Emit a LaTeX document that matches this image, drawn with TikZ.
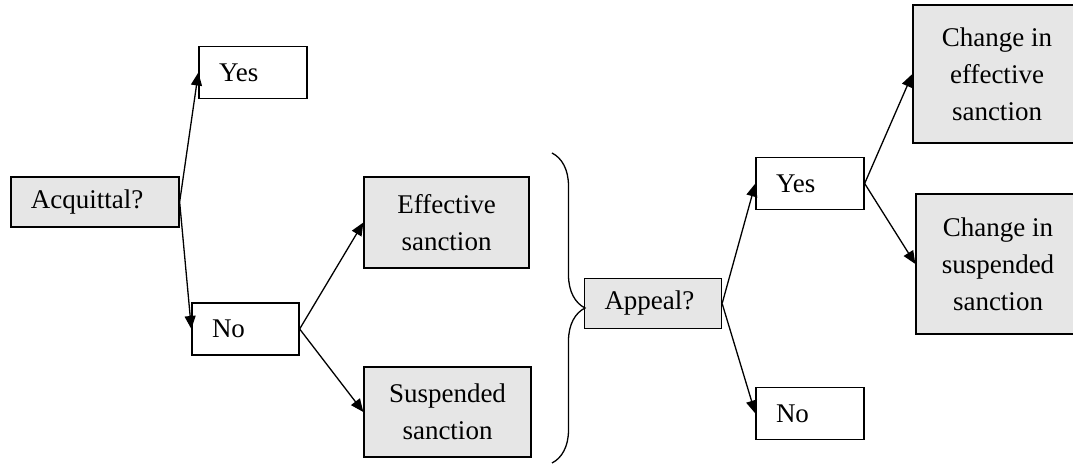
\documentclass[tikz,border=0pt]{standalone}
\usepackage{fontspec}
\setmainfont{Liberation Serif}
\usetikzlibrary{arrows.meta,decorations.pathreplacing}
\definecolor{boxgrey}{HTML}{E6E6E6}

\begin{document}
\begin{tikzpicture}[x=0.5pt,y=0.5pt,
  font=\fontsize{13.5}{18.5}\selectfont,
  answer/.style={draw,line width=0.65pt,inner xsep=10pt,inner ysep=0pt,
    align=left,text width=#1,minimum height=26pt},
  question/.style={answer=#1,fill=boxgrey,minimum height=25pt},
  sanction/.style={draw,line width=0.65pt,fill=boxgrey,inner sep=0pt,align=center},
  arr/.style={line width=0.65pt,-{Triangle[length=6.5pt,width=5.5pt]}}]
\useasboundingbox (0,0) rectangle (1073,465);
\clip (0,0) rectangle (1073,465);
\node[question=64pt] (acq) at (95,263) {Acquittal?};
\node[answer=34pt] (yesA) at (253,392.5) {Yes};
\node[answer=33.5pt] (noA) at (245.5,136) {No};
\node[sanction,minimum width=82.5pt,minimum height=45.5pt] (eff) at (446.5,242.5) {Effective\\sanction};
\node[sanction,minimum width=83.5pt,minimum height=45pt] (susp) at (447.5,53) {Suspended\\sanction};
\node[question=48.5pt] (appeal) at (653,161.5) {Appeal?};
\node[answer=34pt] (yesB) at (810,281.5) {Yes};
\node[answer=34pt] (noB) at (810,51.5) {No};
\node[sanction,minimum width=84pt,minimum height=69pt] (chgeff) at (997,391) {Change in\\effective\\sanction};
\node[sanction,minimum width=82pt,minimum height=70pt] (chgsusp) at (998,201) {Change in\\suspended\\sanction};
\coordinate (bracetop) at (552,312);
\coordinate (bracebot) at (552,2);
\draw[arr] (acq.east) -- (yesA.west);
\draw[arr] (acq.east) -- (noA.west);
\draw[arr] (noA.east) -- (eff.west);
\draw[arr] (noA.east) -- (susp.west);
\draw[line width=0.65pt,decorate,decoration={brace,amplitude=16.5pt}] (bracetop) -- (bracebot);
\draw[arr] (appeal.east) -- (yesB.west);
\draw[arr] (appeal.east) -- (noB.west);
\draw[arr] (yesB.east) -- (chgeff.west);
\draw[arr] (yesB.east) -- (chgsusp.west);
\end{tikzpicture}
\end{document}
